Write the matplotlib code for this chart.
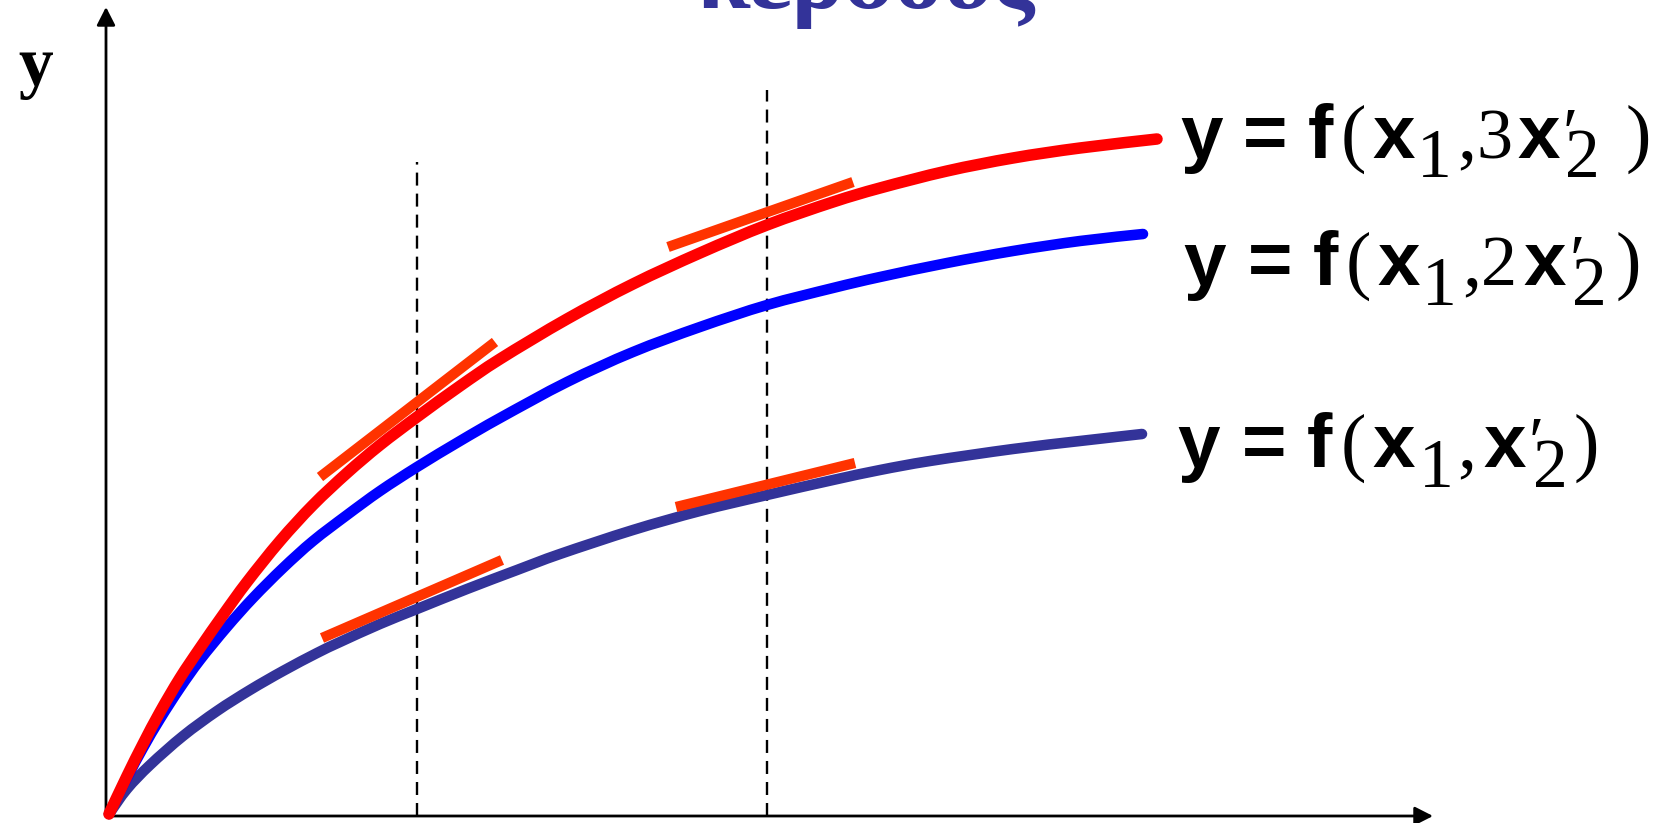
import matplotlib
matplotlib.use("Agg")
import matplotlib.pyplot as plt
from matplotlib.path import Path
from matplotlib.patches import PathPatch

# Canvas and placement of the hand-drawn axes (figure pixels)
W, H, DPI = 1665, 823, 100
OX, OY = 106, 816

# Output curves y = f(x1, k*x2'), in pixel units measured from the origin
red_x = [3, 21, 37, 54, 74, 94, 117, 141, 174, 207, 241, 274, 311, 354, 394,
         461, 527, 594, 661, 727, 774, 841, 907, 974, 1051]
red_y = [2, 40, 72, 104, 138, 168, 201, 234, 275, 311, 343, 371, 399, 430, 457,
         497, 532, 563, 591, 614, 628, 645, 658, 668, 677]

blue_x = [3, 21, 37, 54, 74, 94, 121, 147, 177, 207, 241, 274, 311, 354, 394,
          461, 527, 594, 661, 727, 774, 841, 907, 974, 1037]
blue_y = [2, 38, 68, 97, 128, 156, 189, 218, 248, 275, 301, 325, 349, 375, 398,
          434, 464, 489, 511, 528, 539, 553, 565, 575, 582]

navy_x = [3, 21, 44, 77, 111, 144, 177, 211, 234, 274, 311, 361, 411, 454, 527,
          594, 661, 727, 774, 824, 907, 974, 1036]
navy_y = [2, 27, 51, 80, 105, 126, 145, 163, 174, 192, 207, 227, 246, 262, 286,
          305, 321, 336, 346, 355, 367, 375, 382]

# Tangent segments (start x, start y, end x, end y)
tangents = [
    (214, 339, 389, 474),
    (216, 178, 396, 256),
    (562, 569, 747, 634),
    (570, 309, 749, 353),
]

# Vertical reference lines: x position and top
vline_x = [311, 661]
vline_top = [654, 726]

x_axis_end = 1327
y_axis_end = 809

title_text = "κέρδους"
ylabel_text = "y"

SANS = dict(family=["Liberation Sans", "DejaVu Sans"], weight="bold", size=55)
SERIF = dict(family=["Liberation Serif", "DejaVu Serif"], weight="normal", size=55)
SUB = dict(family=["Liberation Serif", "DejaVu Serif"], weight="normal", size=50)
COEF = dict(family=["Liberation Serif", "DejaVu Serif"], weight="normal", size=52)

# Formula labels: (left x, baseline y, [(glyph, style, dx, dy_down), ...])
formulas = [
    (1074, 658, [("y", SANS, 0, 0), ("=", SANS, 63, 0), ("f", SANS, 128, 0),
                 ("(", SERIF, 161, 0), ("x", SANS, 192, 0), ("1", SUB, 237, 19),
                 (",", SERIF, 277, 0), ("3", COEF, 296, 0), ("x", SANS, 337, 0),
                 ("\u2032", SUB, 383, -2), ("2", SUB, 385, 19), (")", SERIF, 446, 0)]),
    (1077, 531, [("y", SANS, 0, 0), ("=", SANS, 65, 0), ("f", SANS, 130, 0),
                 ("(", SERIF, 163, 0), ("x", SANS, 194, 0), ("1", SUB, 239, 20),
                 (",", SERIF, 279, 0), ("2", COEF, 298, 0), ("x", SANS, 340, 0),
                 ("\u2032", SUB, 387, -2), ("2", SUB, 389, 20), (")", SERIF, 433, 0)]),
    (1071, 349, [("y", SANS, 0, 0), ("=", SANS, 65, 0), ("f", SANS, 130, 0),
                 ("(", SERIF, 164, 0), ("x", SANS, 195, 0), ("1", SUB, 242, 20),
                 (",", SERIF, 280, 0), ("x", SANS, 306, 0),
                 ("\u2032", SUB, 352, -2), ("2", SUB, 356, 20), (")", SERIF, 397, 0)]),
]


def smooth_path(xs, ys):
    """Cubic Bezier path passing through every given point (Catmull-Rom handles)."""
    pts = list(zip(xs, ys))
    n = len(pts)
    verts = [pts[0]]
    codes = [Path.MOVETO]
    for i in range(n - 1):
        p0 = pts[i - 1] if i > 0 else pts[i]
        p1, p2 = pts[i], pts[i + 1]
        p3 = pts[i + 2] if i + 2 < n else pts[i + 1]
        c1 = (p1[0] + (p2[0] - p0[0]) / 6, p1[1] + (p2[1] - p0[1]) / 6)
        c2 = (p2[0] - (p3[0] - p1[0]) / 6, p2[1] - (p3[1] - p1[1]) / 6)
        verts += [c1, c2, p2]
        codes += [Path.CURVE4] * 3
    return Path(verts, codes)


fig = plt.figure(figsize=(W / DPI, H / DPI), dpi=DPI)
ax = fig.add_axes([0, 0, 1, 1])
ax.set_xlim(-OX, W - OX)
ax.set_ylim(-(H - OY), OY)
ax.axis("off")

# Axes with arrow heads
arrow = dict(arrowstyle="-|>,head_length=0.55,head_width=0.28", lw=2.0,
             color="black", mutation_scale=20, shrinkA=0, shrinkB=0)
ax.annotate("", xy=(0, y_axis_end), xytext=(0, 0), arrowprops=arrow)
ax.annotate("", xy=(x_axis_end, 0), xytext=(0, 0), arrowprops=arrow)

# Dashed verticals
for vx, vt in zip(vline_x, vline_top):
    ax.plot([vx, vx], [0, vt], color="black", lw=1.7, ls=(0, (5.5, 3.4)),
            zorder=2)

# Curves
for xs, ys, color, lw, z in [(navy_x, navy_y, "#333399", 7.6, 3),
                             (blue_x, blue_y, "#0000FF", 7.6, 4),
                             (red_x, red_y, "#FF0000", 8.3, 5)]:
    ax.add_patch(PathPatch(smooth_path(xs, ys), fill=False, edgecolor=color,
                           lw=lw, capstyle="round", joinstyle="round",
                           zorder=z))

for x0, y0, x1, y1 in tangents:
    ax.plot([x0, x1], [y0, y1], color="#FF3300", lw=7.4, solid_capstyle="butt",
            zorder=6)

# Formula labels
for lx, ly, pieces in formulas:
    for s, style, dx, dy in pieces:
        ax.text(lx + dx, ly - dy, s, ha="left", va="baseline", color="black",
                **style)

# Axis label and title
ax.text(-88, 731, ylabel_text, ha="left", va="baseline", color="black",
        family=["Liberation Serif", "DejaVu Serif"], weight="bold", size=50)
ax.text(759, 808, title_text, ha="center", va="baseline", color="#333399",
        family=["Liberation Serif", "DejaVu Serif"], weight="bold", size=70)

fig.savefig("out.png", dpi=DPI)
